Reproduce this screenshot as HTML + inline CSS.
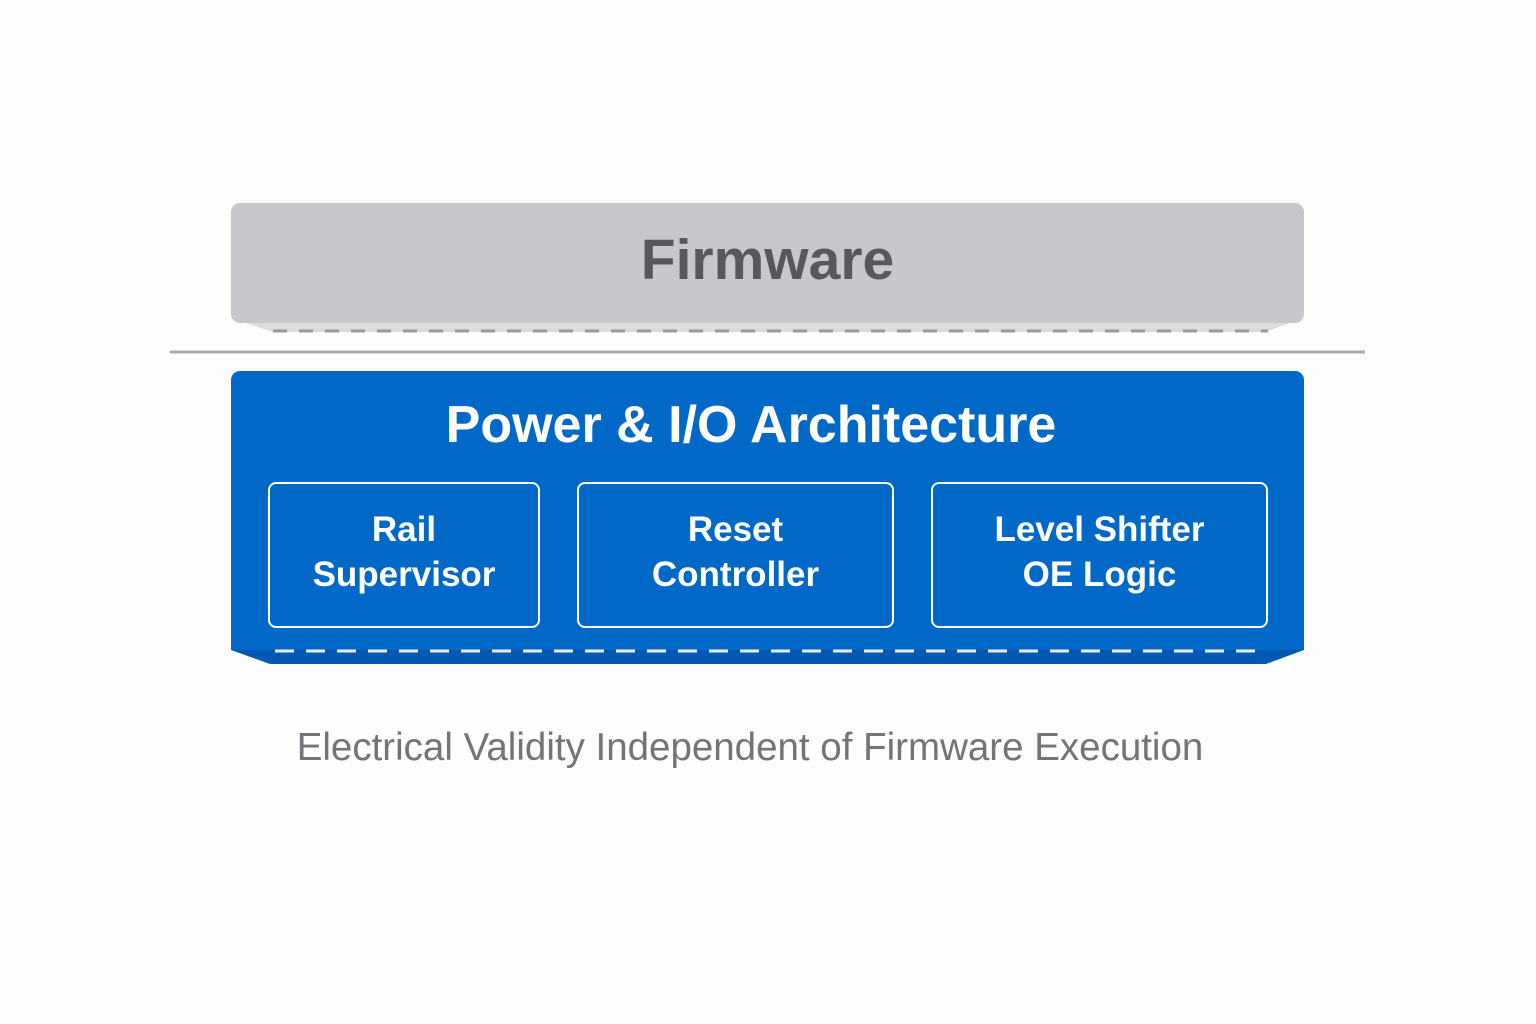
<!DOCTYPE html>
<html><head><style>
body{margin:0;width:1536px;height:1024px;background:#fdfdfd;position:relative;overflow:hidden;font-family:"Liberation Sans","DejaVu Sans",sans-serif}
.a{position:absolute}
.box{position:absolute;border:2.5px solid #fff;border-radius:8px;color:#fff;font-weight:bold;font-size:35px;line-height:45px;text-align:center;display:flex;align-items:center;justify-content:center;box-sizing:border-box;padding-bottom:6px}
</style></head><body>
<svg class="a" style="left:0;top:0" width="1536" height="1024">
<polygon points="231,318 1304,318 1265,332 273,332" fill="#dcdcdf"/>
<rect x="231" y="203" width="1073" height="120" rx="9" fill="#c8c8cc"/>
<line x1="273" y1="331" x2="1268" y2="331" stroke="#9a9a9e" stroke-width="3" stroke-dasharray="14,12"/>
<line x1="170" y1="352" x2="1365" y2="352" stroke="#aaaaae" stroke-width="3"/>
<polygon points="231,640 1304,640 1304,650 1266,664 270,664 231,650" fill="#0059b3"/>
<path d="M231,380 a9,9 0 0 1 9,-9 H1295 a9,9 0 0 1 9,9 V650 H231 Z" fill="#0068c6"/>
<line x1="275" y1="651" x2="1262" y2="651" stroke="#e8eef8" stroke-width="3" stroke-dasharray="19,12"/>
</svg>
<div class="a" style="left:231px;top:227px;width:1073px;text-align:center;font-size:57px;font-weight:bold;color:#58585c">Firmware</div>
<div class="a" style="left:231px;top:395px;width:1040px;text-align:center;font-size:52px;font-weight:bold;color:#fff">Power &amp; I/O Architecture</div>
<div class="box" style="left:268px;top:482px;width:272px;height:146px">Rail<br>Supervisor</div>
<div class="box" style="left:577px;top:482px;width:317px;height:146px">Reset<br>Controller</div>
<div class="box" style="left:931px;top:482px;width:337px;height:146px">Level Shifter<br>OE Logic</div>
<div class="a" style="left:150px;top:726px;width:1200px;text-align:center;font-size:38.5px;color:#737378">Electrical Validity Independent of Firmware Execution</div>
</body></html>
